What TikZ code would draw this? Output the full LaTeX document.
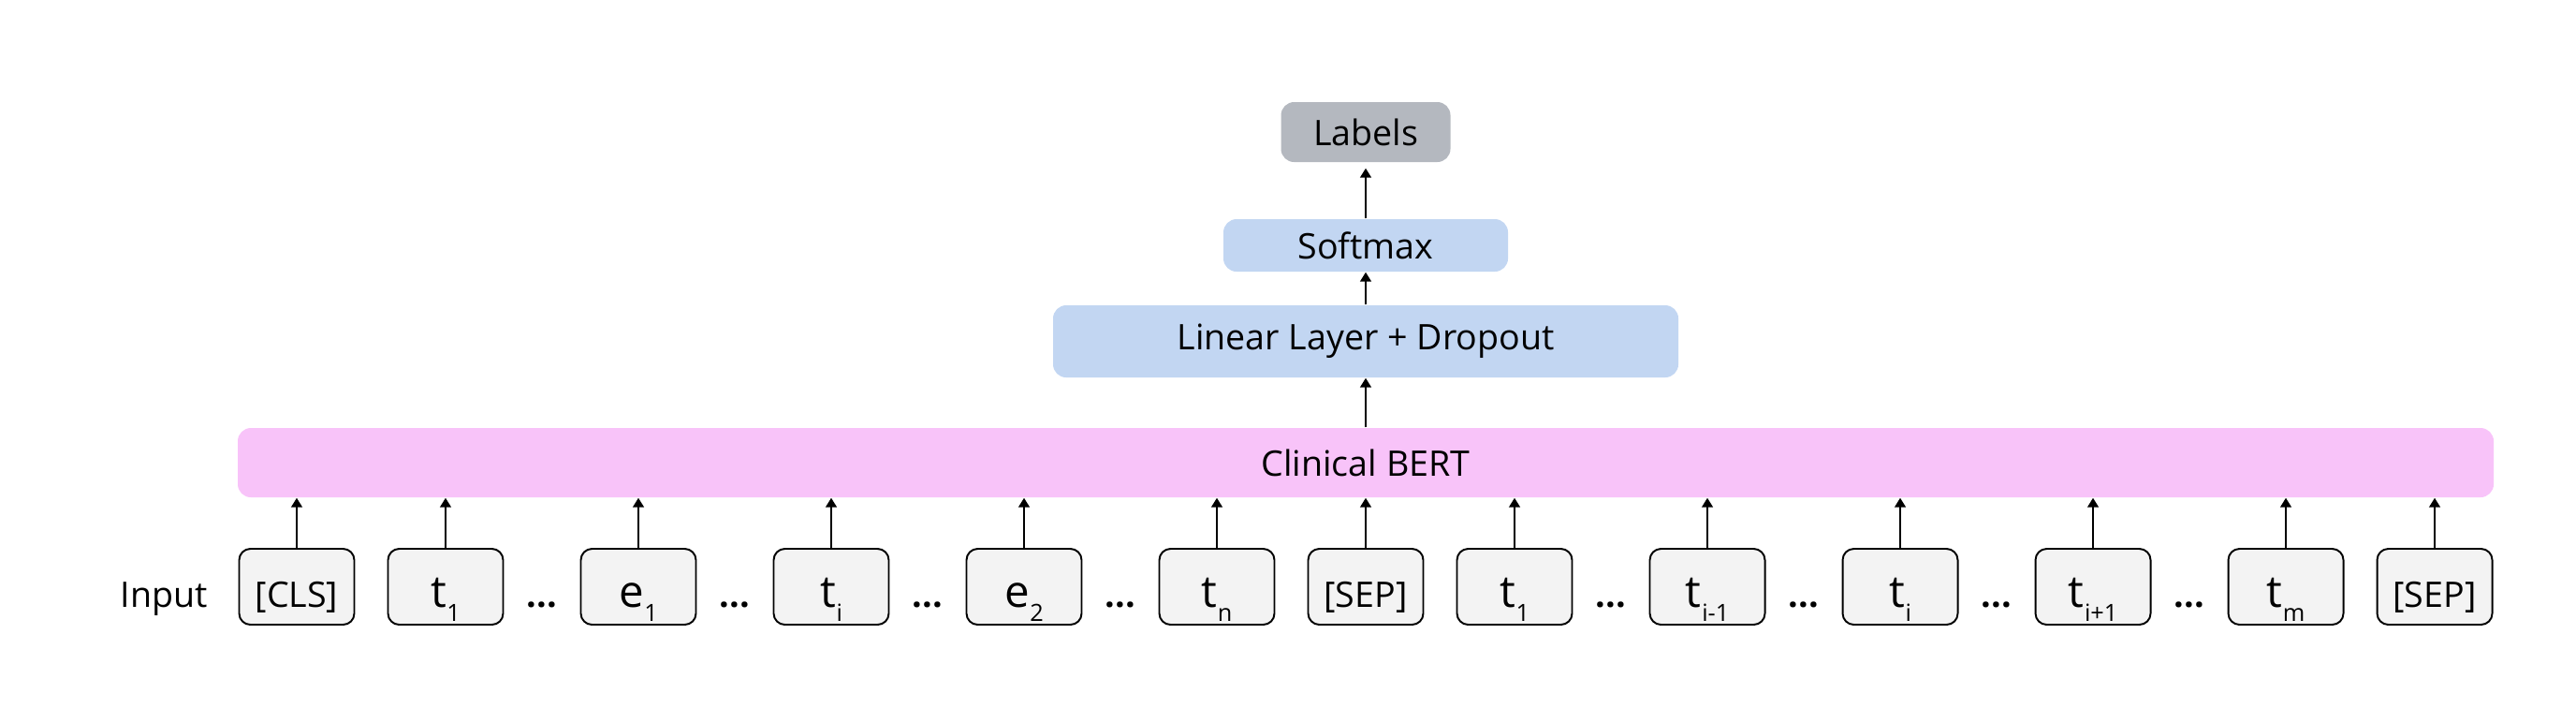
\documentclass[tikz,border=0pt]{standalone}
\usepackage{fontspec}
\setmainfont{Open Sans}
\usepackage{xcolor}
\usetikzlibrary{arrows.meta,positioning}

\definecolor{labelgray}{HTML}{B4B8BF}
\definecolor{layerblue}{HTML}{C2D6F2}
\definecolor{bertpink}{HTML}{F8C3F9}
\definecolor{tokgray}{HTML}{F3F3F3}

% token with a low subscript
\newcommand{\tok}[2]{{\fontsize{13.5}{16}\selectfont #1}\kern0.2pt\raisebox{-4.3pt}{\fontsize{7.2}{9}\selectfont #2}}

\tikzset{
  layer/.style={rounded corners=1.4mm, inner sep=0pt, font=\fontsize{10.7}{13}\selectfont},
  tokbox/.style={draw, line width=0.55pt, fill=tokgray, rounded corners=1.2mm,
    minimum width=12.3mm, minimum height=8.1mm, inner sep=0pt,
    text height=4.9mm, text depth=0.6mm, font=\fontsize{10.7}{13}\selectfont},
  uparrow/.style={-{Triangle[length=1mm,width=1.2mm]}, line width=0.42pt},
}

\begin{document}
\begin{tikzpicture}
        \useasboundingbox (0,0) rectangle (27.52,-7.55);
        % stack of layers
            \node[layer, fill=labelgray, minimum width=18.1mm, minimum height=6.4mm] (labels) at (14.59,-1.41) {Labels};
            \node[layer, fill=layerblue, minimum width=30.4mm, minimum height=5.6mm] (softmax) at (14.59,-2.62) {Softmax};
            \node[layer, fill=layerblue, minimum width=66.8mm, minimum height=7.7mm] (linear) at (14.59,-3.645) {Linear Layer + Dropout};
            \node[layer, fill=bertpink, minimum width=241mm, minimum height=7.4mm] (bert) at (14.59,-4.94) {Clinical BERT};

            \draw[uparrow] (bert.north) -- (linear.south);
            \draw[uparrow] (linear.north) -- (softmax.south);
            \draw[uparrow, shorten >=0.6mm] (softmax.north) -- (labels.south);

        % input tokens
            \node[anchor=base, font=\fontsize{10.7}{13}\selectfont] (input) at (1.75,-6.48) {Input};
            \foreach \x/\lab [count=\i] in {3.17/{[CLS]}, 4.76/{\tok{t}{1}}, 6.82/{\tok{e}{1}},
                8.88/{\tok{t}{i}}, 10.94/{\tok{e}{2}}, 13.00/{\tok{t}{n}}, 14.59/{[SEP]},
                16.18/{\tok{t}{1}}, 18.24/{\tok{t}{i-1}}, 20.30/{\tok{t}{i}},
                22.36/{\tok{t}{i+1}}, 24.42/{\tok{t}{m}}, 26.01/{[SEP]}}
            \node[tokbox] (tok\i) at (\x,-6.265) {\lab};

            \foreach \i in {1,...,13}
            \draw[uparrow] (tok\i.north) -- (tok\i.north |- bert.south);

        % dots between tokens
            \foreach \x [count=\i] in {5.79,7.85,9.91,11.97,17.21,19.27,21.33,23.39}
            \node[anchor=base, inner sep=0pt, font=\fontsize{10.7}{13}\selectfont\bfseries] (dots\i) at (\x,-6.48) {...};
\end{tikzpicture}
\end{document}
